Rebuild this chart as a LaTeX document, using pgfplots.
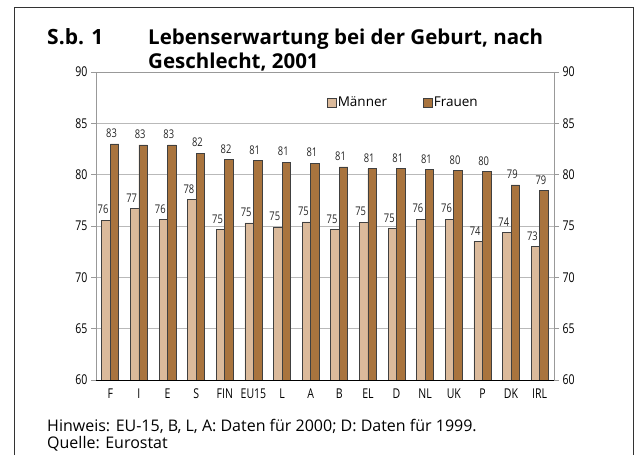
\documentclass[border=0pt]{standalone}
\usepackage{fontspec}
\setmainfont{Open Sans}
\newfontfamily\cond[FakeStretch=0.78]{Open Sans}
\usepackage{pgfplots}
\usepackage{pgfplotstable}
\pgfplotsset{compat=1.18}
\definecolor{men}{HTML}{DBBA9B}
\definecolor{women}{HTML}{A9743E}

\pgfplotstableread{
x y lab
0 75.55 76
1 76.7 77
2 75.6 76
3 77.55 78
4 74.65 75
5 75.3 75
6 74.9 75
7 75.4 75
8 74.65 75
9 75.35 75
10 74.75 75
11 75.65 76
12 75.65 76
13 73.5 74
14 74.35 74
15 73.0 73
}\men

\pgfplotstableread{
x y lab
0 83.0 83
1 82.9 83
2 82.9 83
3 82.1 82
4 81.45 82
5 81.35 81
6 81.2 81
7 81.1 81
8 80.75 81
9 80.6 81
10 80.6 81
11 80.5 81
12 80.4 80
13 80.3 80
14 79.0 79
15 78.45 79
}\women

\begin{document}
\begin{tikzpicture}[x=1pt,y=1pt]
\useasboundingbox (0,0) rectangle (634,455);
\draw[black!80, line width=0.8pt] (14,0) -- (14,448) -- (633,448) -- (633,0);
\node[anchor=base west, inner sep=0pt, font=\bfseries\fontsize{21}{24}\selectfont] at (47,410) {S.b. 1};
\node[anchor=base west, inner sep=0pt, font=\bfseries\fontsize{20.5}{24}\selectfont] at (148,410) {Lebenserwartung bei der Geburt, nach};
\node[anchor=base west, inner sep=0pt, font=\bfseries\fontsize{20.5}{24}\selectfont] at (148,386) {Geschlecht, 2001};
\node[anchor=base west, inner sep=0pt, font=\fontsize{16}{19}\selectfont] at (47,24) {Hinweis: EU-15, B, L, A: Daten für 2000; D: Daten für 1999.};
\node[anchor=base west, inner sep=0pt, font=\fontsize{16}{19}\selectfont] at (47,7) {Quelle: Eurostat};

\begin{axis}[
  at={(96pt,75pt)}, anchor=south west,
  scale only axis, width=458pt, height=308pt,
  ymin=60, ymax=90, xmin=-0.5, xmax=15.5,
  ytick={60,65,...,90}, ytick pos=left,
  xtick={0,...,15},
  xticklabels={F,I,E,S,FIN,EU15,L,A,B,EL,D,NL,UK,P,DK,IRL},
  x tick style={draw=none},
  y tick style={gray!80, line width=0.6pt},
  tick align=outside, major tick length=5pt,
  ymajorgrids, grid style={gray!55, line width=0.6pt},
  axis line style={gray!80, line width=0.7pt},
  ticklabel style={font=\cond\fontsize{13.5}{15}\selectfont},
  /pgf/number format/assume math mode=true,
  ybar=0pt, bar width=8.5pt,
  nodes near coords={\pgfplotspointmeta},
  point meta=explicit symbolic,
  every node near coord/.append style={font=\cond\fontsize{12}{14}\selectfont, text=black!85, inner sep=0pt, yshift=6pt, xshift=-3pt},
  legend style={at={(rel axis cs:0.503,0.9)}, anchor=west, draw=none, fill=none, inner sep=0pt,
    font=\fontsize{13.5}{16}\selectfont, legend columns=2,
    /tikz/every even column/.append style={column sep=34pt},
    nodes={inner sep=1.5pt}},
  legend image code/.code={\draw[#1] (0pt,-4.5pt) rectangle (9pt,4.5pt);},
]
\addplot[fill=men, draw=black!75, line width=0.7pt] table[x=x, y=y, meta=lab] {\men};
\addplot[fill=women, draw=black!75, line width=0.7pt] table[x=x, y=y, meta=lab] {\women};
\legend{Männer, Frauen}
\draw[black, line width=0.8pt] (axis cs:-0.5,60) -- (axis cs:15.5,60);
\end{axis}

\begin{axis}[
  at={(96pt,75pt)}, anchor=south west,
  scale only axis, width=458pt, height=308pt,
  ymin=60, ymax=90, xmin=-0.5, xmax=15.5,
  hide x axis, axis y line*=right,
  ytick={60,65,...,90},
  y tick style={gray!80, line width=0.6pt},
  tick align=outside, major tick length=5pt,
  axis line style={gray!80, line width=0.7pt},
  ticklabel style={font=\cond\fontsize{13.5}{15}\selectfont},
  /pgf/number format/assume math mode=true,
]
\addplot[draw=none] coordinates {(0,60)};
\end{axis}
\end{tikzpicture}
\end{document}
